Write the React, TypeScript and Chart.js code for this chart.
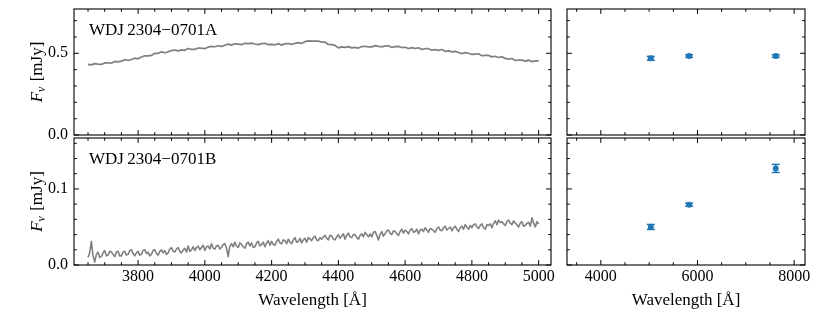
import React, { useEffect, useRef } from "react";
import { Chart, registerables } from "chart.js";

Chart.register(...registerables);

// ---------------- data ----------------
const wavelengthA = [
  3650, 3660, 3670, 3680, 3690, 3700, 3710, 3720, 3730, 3740,
  3750, 3760, 3770, 3780, 3790, 3800, 3810, 3820, 3830, 3840,
  3850, 3860, 3870, 3880, 3890, 3900, 3910, 3920, 3930, 3940,
  3950, 3960, 3970, 3980, 3990, 4000, 4010, 4020, 4030, 4040,
  4050, 4060, 4070, 4080, 4090, 4100, 4110, 4120, 4130, 4140,
  4150, 4160, 4170, 4180, 4190, 4200, 4210, 4220, 4230, 4240,
  4250, 4260, 4270, 4280, 4290, 4300, 4310, 4320, 4330, 4340,
  4350, 4360, 4370, 4380, 4390, 4400, 4410, 4420, 4430, 4440,
  4450, 4460, 4470, 4480, 4490, 4500, 4510, 4520, 4530, 4540,
  4550, 4560, 4570, 4580, 4590, 4600, 4610, 4620, 4630, 4640,
  4650, 4660, 4670, 4680, 4690, 4700, 4710, 4720, 4730, 4740,
  4750, 4760, 4770, 4780, 4790, 4800, 4810, 4820, 4830, 4840,
  4850, 4860, 4870, 4880, 4890, 4900, 4910, 4920, 4930, 4940,
  4950, 4960, 4970, 4980, 4990, 5000,
];

const fluxA = [
  0.432, 0.429, 0.437, 0.434, 0.432, 0.441, 0.442, 0.439, 0.450, 0.447,
  0.452, 0.461, 0.456, 0.462, 0.470, 0.466, 0.477, 0.484, 0.484, 0.487,
  0.500, 0.499, 0.509, 0.503, 0.509, 0.516, 0.520, 0.515, 0.521, 0.518,
  0.529, 0.524, 0.524, 0.532, 0.531, 0.528, 0.538, 0.542, 0.540, 0.546,
  0.542, 0.549, 0.556, 0.550, 0.558, 0.556, 0.553, 0.561, 0.559, 0.562,
  0.557, 0.553, 0.559, 0.561, 0.553, 0.555, 0.551, 0.559, 0.550, 0.558,
  0.560, 0.555, 0.561, 0.565, 0.561, 0.571, 0.576, 0.574, 0.575, 0.575,
  0.568, 0.569, 0.554, 0.553, 0.548, 0.533, 0.539, 0.536, 0.541, 0.533,
  0.536, 0.532, 0.541, 0.543, 0.539, 0.539, 0.547, 0.542, 0.539, 0.545,
  0.546, 0.536, 0.541, 0.542, 0.535, 0.537, 0.529, 0.535, 0.529, 0.534,
  0.524, 0.528, 0.528, 0.519, 0.522, 0.518, 0.523, 0.512, 0.515, 0.509,
  0.512, 0.505, 0.498, 0.504, 0.500, 0.493, 0.495, 0.497, 0.485, 0.487,
  0.487, 0.478, 0.482, 0.474, 0.478, 0.469, 0.464, 0.468, 0.456, 0.459,
  0.458, 0.452, 0.458, 0.449, 0.454, 0.454,
];

const wavelengthB = [
  3650, 3655, 3660, 3665, 3670, 3675, 3680, 3685, 3690, 3695, 3700, 3705, 3710, 3715, 3720, 3725, 3730, 3735, 3740, 3745,
  3750, 3755, 3760, 3765, 3770, 3775, 3780, 3785, 3790, 3795, 3800, 3805, 3810, 3815, 3820, 3825, 3830, 3835, 3840, 3845,
  3850, 3855, 3860, 3865, 3870, 3875, 3880, 3885, 3890, 3895, 3900, 3905, 3910, 3915, 3920, 3925, 3930, 3935, 3940, 3945,
  3950, 3955, 3960, 3965, 3970, 3975, 3980, 3985, 3990, 3995, 4000, 4005, 4010, 4015, 4020, 4025, 4030, 4035, 4040, 4045,
  4050, 4055, 4060, 4065, 4070, 4075, 4080, 4085, 4090, 4095, 4100, 4105, 4110, 4115, 4120, 4125, 4130, 4135, 4140, 4145,
  4150, 4155, 4160, 4165, 4170, 4175, 4180, 4185, 4190, 4195, 4200, 4205, 4210, 4215, 4220, 4225, 4230, 4235, 4240, 4245,
  4250, 4255, 4260, 4265, 4270, 4275, 4280, 4285, 4290, 4295, 4300, 4305, 4310, 4315, 4320, 4325, 4330, 4335, 4340, 4345,
  4350, 4355, 4360, 4365, 4370, 4375, 4380, 4385, 4390, 4395, 4400, 4405, 4410, 4415, 4420, 4425, 4430, 4435, 4440, 4445,
  4450, 4455, 4460, 4465, 4470, 4475, 4480, 4485, 4490, 4495, 4500, 4505, 4510, 4515, 4520, 4525, 4530, 4535, 4540, 4545,
  4550, 4555, 4560, 4565, 4570, 4575, 4580, 4585, 4590, 4595, 4600, 4605, 4610, 4615, 4620, 4625, 4630, 4635, 4640, 4645,
  4650, 4655, 4660, 4665, 4670, 4675, 4680, 4685, 4690, 4695, 4700, 4705, 4710, 4715, 4720, 4725, 4730, 4735, 4740, 4745,
  4750, 4755, 4760, 4765, 4770, 4775, 4780, 4785, 4790, 4795, 4800, 4805, 4810, 4815, 4820, 4825, 4830, 4835, 4840, 4845,
  4850, 4855, 4860, 4865, 4870, 4875, 4880, 4885, 4890, 4895, 4900, 4905, 4910, 4915, 4920, 4925, 4930, 4935, 4940, 4945,
  4950, 4955, 4960, 4965, 4970, 4975, 4980, 4985, 4990, 4995, 5000,
];

const fluxB = [
  0.010, 0.016, 0.031, 0.012, 0.004, 0.014, 0.017, 0.010, 0.011, 0.016, 0.019, 0.012, 0.013, 0.018, 0.017, 0.014, 0.011, 0.017, 0.018, 0.012,
  0.012, 0.017, 0.018, 0.013, 0.014, 0.019, 0.020, 0.015, 0.012, 0.016, 0.018, 0.013, 0.014, 0.019, 0.020, 0.015, 0.017, 0.012, 0.014, 0.019,
  0.020, 0.015, 0.013, 0.018, 0.020, 0.016, 0.019, 0.014, 0.016, 0.021, 0.023, 0.018, 0.017, 0.021, 0.023, 0.018, 0.016, 0.020, 0.022, 0.017,
  0.025, 0.018, 0.020, 0.024, 0.019, 0.023, 0.025, 0.020, 0.023, 0.026, 0.019, 0.024, 0.025, 0.021, 0.028, 0.022, 0.021, 0.025, 0.026, 0.021,
  0.023, 0.027, 0.028, 0.022, 0.011, 0.025, 0.028, 0.024, 0.030, 0.025, 0.023, 0.029, 0.027, 0.024, 0.022, 0.028, 0.030, 0.025, 0.029, 0.023,
  0.024, 0.029, 0.031, 0.025, 0.027, 0.030, 0.024, 0.029, 0.032, 0.026, 0.031, 0.027, 0.026, 0.031, 0.034, 0.029, 0.028, 0.033, 0.032, 0.028,
  0.034, 0.030, 0.028, 0.033, 0.036, 0.030, 0.031, 0.035, 0.029, 0.033, 0.035, 0.030, 0.036, 0.034, 0.032, 0.036, 0.038, 0.033, 0.032, 0.036,
  0.034, 0.037, 0.039, 0.035, 0.033, 0.039, 0.038, 0.034, 0.033, 0.037, 0.040, 0.035, 0.038, 0.041, 0.034, 0.039, 0.042, 0.037, 0.036, 0.040,
  0.040, 0.036, 0.034, 0.039, 0.041, 0.037, 0.043, 0.040, 0.037, 0.041, 0.037, 0.043, 0.044, 0.039, 0.033, 0.040, 0.044, 0.038, 0.041, 0.045,
  0.046, 0.042, 0.040, 0.045, 0.044, 0.041, 0.039, 0.044, 0.047, 0.042, 0.046, 0.044, 0.041, 0.046, 0.048, 0.043, 0.044, 0.047, 0.041, 0.046,
  0.047, 0.044, 0.049, 0.046, 0.043, 0.048, 0.047, 0.045, 0.043, 0.048, 0.050, 0.046, 0.045, 0.049, 0.051, 0.046, 0.048, 0.050, 0.045, 0.049,
  0.051, 0.047, 0.044, 0.049, 0.051, 0.047, 0.053, 0.050, 0.047, 0.052, 0.049, 0.053, 0.054, 0.050, 0.048, 0.052, 0.054, 0.049, 0.047, 0.053,
  0.052, 0.054, 0.049, 0.055, 0.058, 0.053, 0.059, 0.056, 0.057, 0.054, 0.052, 0.057, 0.059, 0.055, 0.053, 0.058, 0.055, 0.053, 0.050, 0.055,
  0.057, 0.051, 0.052, 0.055, 0.056, 0.051, 0.062, 0.055, 0.050, 0.057, 0.054,
];

const photWave = [5034, 5827, 7620];
const photFluxA = [0.469, 0.483, 0.483];
const photErrA = [0.012, 0.008, 0.008];
const photFluxB = [0.050, 0.0793, 0.127];
const photErrB = [0.0033, 0.002, 0.0053];

const xTicksSpec = [3800, 4000, 4200, 4400, 4600, 4800, 5000];
const xTicksPhot = [4000, 6000, 8000];
const yTicksA = [0.0, 0.5];
const yTicksB = [0.0, 0.1];

const nameA = "WDJ\u20092304\u22120701A";
const nameB = "WDJ\u20092304\u22120701B";
const xTitleText = "Wavelength [\u00C5]";
const yTitleMain = "F";
const yTitleSub = "\u03BD";
const yTitleUnit = " [mJy]";

// ---------------- layout ----------------
const W = 830;
const H = 312;
const XAXIS_H = 30;
const FONT = "'Liberation Serif', 'DejaVu Serif', serif";
const C0 = "#1f77b4";
const GREY = "#808080";

type PanelSpec = {
  left: number; top: number; right: number; bottom: number;
  xMin: number; xMax: number; yMin: number; yMax: number;
  xMajor: number[]; xMinor: number; yMajor: number[]; yMinor: number;
  xLabels: boolean; yLabels: boolean;
  name?: string; xTitle: boolean; yTitle: boolean;
  datasets: any[];
};

function spectrum(wave: number[], flux: number[], lw: number) {
  return {
    data: wave.map((w, i) => ({ x: w, y: flux[i] })),
    borderColor: GREY,
    borderWidth: lw,
    pointRadius: 0,
    tension: 0,
    fill: false,
    borderJoinStyle: "round",
  };
}

function photometry(flux: number[], err: number[]) {
  return [
    {
      data: photWave.map((w, i) => ({ x: w, y: flux[i] })),
      showLine: false,
      pointRadius: 3,
      pointStyle: "circle",
      pointBackgroundColor: C0,
      pointBorderWidth: 0,
      order: 0,
    },
    {
      data: photWave.flatMap((w, i) => [
        { x: w, y: flux[i] - err[i] },
        { x: w, y: flux[i] + err[i] },
        { x: w, y: null },
      ]),
      showLine: true,
      spanGaps: false,
      borderColor: C0,
      borderWidth: 1.5,
      pointStyle: "line",
      pointRadius: 4,
      pointBorderColor: C0,
      pointBorderWidth: 1.5,
      order: 1,
    },
  ];
}

const panels: PanelSpec[] = [
  {
    left: 74, top: 9, right: 551, bottom: 135,
    xMin: 3608, xMax: 5037, yMin: 0, yMax: 0.771,
    xMajor: xTicksSpec, xMinor: 50, yMajor: yTicksA, yMinor: 0.1,
    xLabels: false, yLabels: true, name: nameA, xTitle: false, yTitle: true,
    datasets: [spectrum(wavelengthA, fluxA, 1.7)],
  },
  {
    left: 74, top: 138, right: 551, bottom: 265,
    xMin: 3608, xMax: 5037, yMin: 0, yMax: 0.167,
    xMajor: xTicksSpec, xMinor: 50, yMajor: yTicksB, yMinor: 0.02,
    xLabels: true, yLabels: true, name: nameB, xTitle: true, yTitle: true,
    datasets: [spectrum(wavelengthB, fluxB, 1.6)],
  },
  {
    left: 567, top: 9, right: 805, bottom: 135,
    xMin: 3300, xMax: 8225, yMin: 0, yMax: 0.771,
    xMajor: xTicksPhot, xMinor: 500, yMajor: yTicksA, yMinor: 0.1,
    xLabels: false, yLabels: false, xTitle: false, yTitle: false,
    datasets: photometry(photFluxA, photErrA),
  },
  {
    left: 567, top: 138, right: 805, bottom: 265,
    xMin: 3300, xMax: 8225, yMin: 0, yMax: 0.167,
    xMajor: xTicksPhot, xMinor: 500, yMajor: yTicksB, yMinor: 0.02,
    xLabels: true, yLabels: false, xTitle: true, yTitle: false,
    datasets: photometry(photFluxB, photErrB),
  },
];

function decorPlugin(p: PanelSpec) {
  return {
    id: "decor",
    afterDatasetsDraw(chart: any) {
      const { ctx, chartArea: a, scales } = chart;
      const xs = scales.x;
      const ys = scales.y;
      ctx.save();
      ctx.strokeStyle = "#000";
      ctx.lineWidth = 1;
      const seg = (x1: number, y1: number, x2: number, y2: number) => {
        ctx.beginPath();
        ctx.moveTo(x1, y1);
        ctx.lineTo(x2, y2);
        ctx.stroke();
      };
      const isMajor = (v: number, arr: number[], step: number) =>
        arr.some((m) => Math.abs(m - v) < step * 1e-3);
      const xTick = (v: number, len: number) => {
        const px = xs.getPixelForValue(v);
        seg(px, a.bottom, px, a.bottom - len);
        seg(px, a.top, px, a.top + len);
      };
      const yTick = (v: number, len: number) => {
        const py = ys.getPixelForValue(v);
        seg(a.left, py, a.left + len, py);
        seg(a.right, py, a.right - len, py);
      };
      for (let k = Math.ceil(p.xMin / p.xMinor); k * p.xMinor <= p.xMax; k++) {
        const v = k * p.xMinor;
        if (!isMajor(v, p.xMajor, p.xMinor)) xTick(v, 2.8);
      }
      p.xMajor.forEach((v) => xTick(v, 4.9));
      for (let k = Math.ceil(p.yMin / p.yMinor - 1e-6); k * p.yMinor <= p.yMax + 1e-9; k++) {
        const v = k * p.yMinor;
        if (!isMajor(v, p.yMajor, p.yMinor)) yTick(v, 2.8);
      }
      p.yMajor.forEach((v) => yTick(v, 4.9));

      ctx.lineWidth = 1.1;
      ctx.strokeRect(a.left, a.top, a.right - a.left, a.bottom - a.top);

      ctx.fillStyle = "#000";
      if (p.name) {
        ctx.font = `17px ${FONT}`;
        ctx.textAlign = "left";
        ctx.textBaseline = "alphabetic";
        ctx.fillText(p.name, a.left + 15, a.top + 26);
      }
      if (p.xTitle) {
        ctx.font = `17px ${FONT}`;
        ctx.textAlign = "center";
        ctx.textBaseline = "alphabetic";
        ctx.fillText(xTitleText, (a.left + a.right) / 2, 305);
      }
      if (p.yTitle) {
        const cx = 35.5;
        const cy = (a.top + a.bottom) / 2;
        ctx.translate(cx, cy);
        ctx.rotate(-Math.PI / 2);
        ctx.textAlign = "left";
        ctx.textBaseline = "alphabetic";
        ctx.font = `italic 17px ${FONT}`;
        const wF = ctx.measureText(yTitleMain).width;
        ctx.font = `italic 12px ${FONT}`;
        const wNu = ctx.measureText(yTitleSub).width;
        ctx.font = `17px ${FONT}`;
        const wU = ctx.measureText(yTitleUnit).width;
        let x = -(wF + wNu + 1 + wU) / 2;
        ctx.font = `italic 17px ${FONT}`;
        ctx.fillText(yTitleMain, x, 6);
        x += wF;
        ctx.font = `italic 12px ${FONT}`;
        ctx.fillText(yTitleSub, x, 9);
        x += wNu + 1;
        ctx.font = `17px ${FONT}`;
        ctx.fillText(yTitleUnit, x, 6);
      }
      ctx.restore();
    },
  };
}

function zeroPad(s: any) {
  s.paddingLeft = 0;
  s.paddingRight = 0;
  s.paddingTop = 0;
  s.paddingBottom = 0;
}

function makeConfig(p: PanelSpec): any {
  const xH = p.xLabels ? XAXIS_H : 0;
  return {
    type: "line",
    data: { datasets: p.datasets },
    options: {
      responsive: false,
      maintainAspectRatio: false,
      animation: false,
      events: [],
      layout: {
        padding: {
          left: p.yLabels ? 0 : p.left,
          top: p.top,
          right: W - p.right,
          bottom: H - p.bottom - xH,
        },
      },
      plugins: { legend: { display: false }, tooltip: { enabled: false } },
      scales: {
        x: {
          type: "linear",
          position: "bottom",
          min: p.xMin,
          max: p.xMax,
          grid: { display: false, drawTicks: false },
          border: { display: false },
          afterBuildTicks: (s: any) => {
            s.ticks = p.xMajor.map((v) => ({ value: v }));
          },
          afterFit: (s: any) => {
            s.height = xH;
            zeroPad(s);
          },
          ticks: {
            display: p.xLabels,
            padding: 2,
            color: "#000",
            autoSkip: false,
            maxRotation: 0,
            font: { family: FONT, size: 16 },
            callback: (v: any) => String(v),
          },
        },
        y: {
          type: "linear",
          position: "left",
          min: p.yMin,
          max: p.yMax,
          grid: { display: false, drawTicks: false },
          border: { display: false },
          afterBuildTicks: (s: any) => {
            s.ticks = p.yMajor.map((v) => ({ value: v }));
          },
          afterFit: (s: any) => {
            s.width = p.yLabels ? p.left : 0;
            zeroPad(s);
          },
          ticks: {
            display: p.yLabels,
            padding: 6,
            color: "#000",
            font: { family: FONT, size: 16 },
            callback: (v: any) => Number(v).toFixed(1),
          },
        },
      },
    },
    plugins: [decorPlugin(p)],
  };
}

function Panel({ spec }: { spec: PanelSpec }) {
  const ref = useRef<HTMLCanvasElement | null>(null);
  useEffect(() => {
    if (!ref.current) return;
    const chart = new Chart(ref.current, makeConfig(spec));
    return () => chart.destroy();
  }, [spec]);
  return (
    <canvas
      ref={ref}
      width={W}
      height={H}
      style={{ position: "absolute", left: 0, top: 0, width: W, height: H }}
    />
  );
}

export default function App() {
  return (
    <div
      style={{
        position: "fixed",
        left: 0,
        top: 0,
        width: W,
        height: H,
        background: "#fff",
      }}
    >
      {panels.map((p, i) => (
        <Panel key={i} spec={p} />
      ))}
    </div>
  );
}
